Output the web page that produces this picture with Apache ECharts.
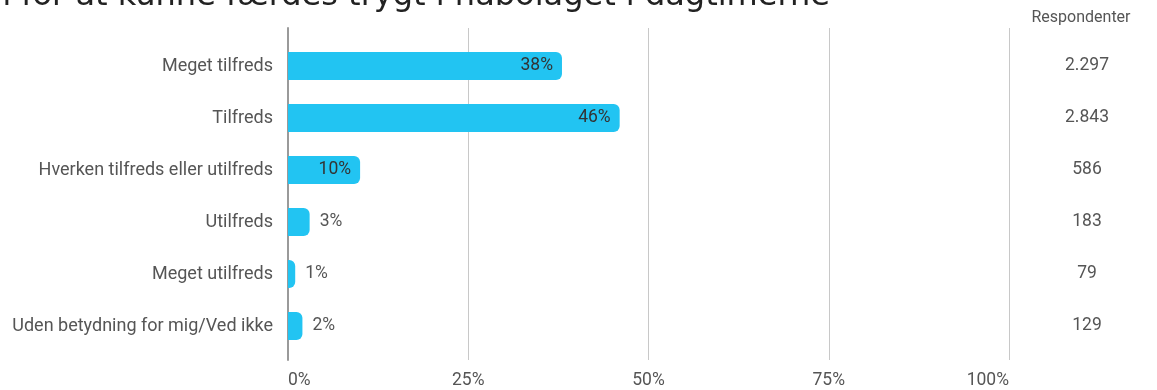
<!DOCTYPE html>
<html>
<head>
<meta charset="utf-8">
<script src="https://cdn.jsdelivr.net/npm/echarts@6/dist/echarts.min.js"></script>
<style>
html,body{margin:0;padding:0;background:#fff;}
#c{width:1157px;height:390px;}
</style>
</head>
<body>
<div id="c"></div>
<script>
const titleText = 'Hvor tilfreds er du med muligheden for at kunne færdes trygt i nabolaget i dagtimerne';
const categories = ['Meget tilfreds','Tilfreds','Hverken tilfreds eller utilfreds','Utilfreds','Meget utilfreds','Uden betydning for mig/Ved ikke'];
const percentages = [38, 46, 10, 3, 1, 2];
const respondents = [2297, 2843, 586, 183, 79, 129];
const xTicks = [0, 25, 50, 75, 100];
const respondentsHeader = 'Respondenter';

function fmtThousands(n){ return String(n).replace(/\B(?=(\d{3})+(?!\d))/g, '.'); }

const chart = echarts.init(document.getElementById('c'), null, {renderer:'canvas'});
const font = 'Roboto';
const barData = percentages.map(v => ({
  value: v,
  label: v >= 10
    ? {position:'insideRight', distance: 9, color:'#333'}
    : {position:'right', distance: 10, color:'#555'}
}));

chart.setOption({
  animation:false,
  backgroundColor:'#fff',
  textStyle:{fontFamily:font},
  graphic:[
    {type:'text', x: 830, y: -19, z:10,
      style:{text:titleText, font:'32px "DejaVu Sans"', fill:'#222', align:'right', verticalAlign:'top'}},
    {type:'text', x: 1081, y: 18, z:10,
      style:{text:respondentsHeader, font:'16px Roboto', fill:'#555', align:'center', verticalAlign:'middle'}}
  ],
  grid:[
    {left:288, right:1157-1009, top:40, bottom:38},
    {left:288, right:1157-1009, top:28, bottom:27}
  ],
  xAxis:[
    {gridIndex:0, type:'value', min:0, max:100, interval:25, show:false},
    {gridIndex:1, type:'value', min:xTicks[0], max:xTicks[xTicks.length-1], interval:25,
      axisLine:{show:false}, axisTick:{show:false},
      splitLine:{show:true, lineStyle:{color:'#c8c8c8', width:1}},
      axisLabel:{formatter:'{value}%', color:'#555', fontSize:17.5, fontFamily:font, margin:12,
        alignMinLabel:'left', alignMaxLabel:'right'}}
  ],
  yAxis:[
    {gridIndex:0, type:'category', data:categories, inverse:true,
      axisLine:{show:false}, axisTick:{show:false}, splitLine:{show:false},
      axisLabel:{color:'#555', fontSize:18, fontFamily:font, margin:15}},
    {gridIndex:0, type:'category', data:respondents.map(fmtThousands), inverse:true, position:'right',
      axisLine:{show:false}, axisTick:{show:false}, splitLine:{show:false},
      axisLabel:{color:'#555', fontSize:17.5, fontFamily:font, margin:78, align:'center'}},
    {gridIndex:1, type:'value', min:0, max:1,
      axisLine:{show:true, onZero:false, lineStyle:{color:'#9a9a9a', width:2}},
      axisTick:{show:false}, axisLabel:{show:false}, splitLine:{show:false}}
  ],
  series:[
    {type:'bar', xAxisIndex:0, yAxisIndex:0, data:barData, barWidth:28, z:3,
      itemStyle:{color:'#22c4f2', borderRadius:[0,6,6,0]},
      label:{show:true, formatter:'{c}%', fontSize:17.5, fontFamily:font}}
  ]
});
</script>
</body>
</html>
